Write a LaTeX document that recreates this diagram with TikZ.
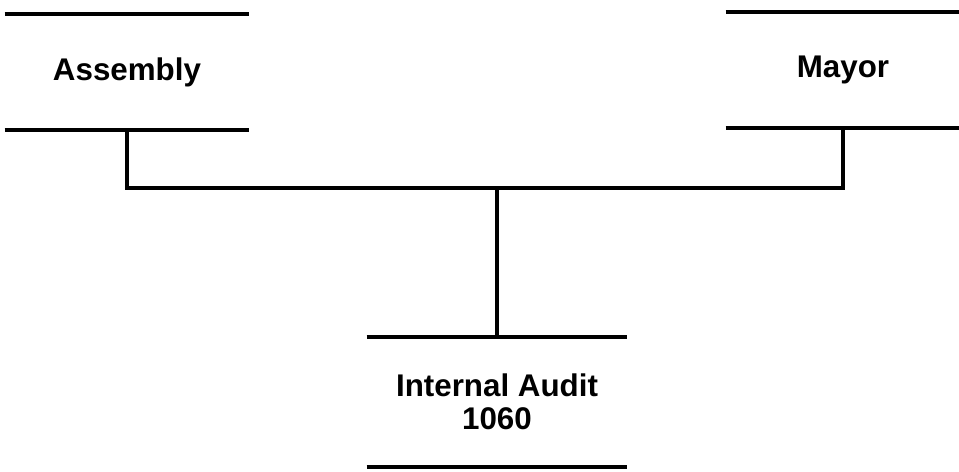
\documentclass[tikz,border=0pt]{standalone}
\usepackage{fontspec}
\setmainfont{Liberation Sans}
\usepackage{tikz}

\begin{document}
\begin{tikzpicture}
    [x=0.75pt,y=-0.75pt,
    unit/.style={minimum width=#1,inner sep=0pt,align=center,
        font=\fontsize{23.5}{24.5}\selectfont\bfseries},
    rule/.style={black,line width=2.8pt},
    link/.style={black,line width=2.4pt}]

\useasboundingbox (0,0) rectangle (959,471);

%units of the chart
\node[unit=183pt,minimum height=87pt] (assembly) at (127,72) {Assembly};
\node[unit=175.5pt,minimum height=87pt] (mayor) at (843,70) {Mayor};
\node[unit=195pt,minimum height=97.5pt] (audit) at (497,402) {Internal Audit\\1060};

%rules above and below each unit
\foreach \n in {assembly,mayor,audit}
    \draw[rule] (\n.north west) -- (\n.north east)
                (\n.south west) -- (\n.south east);

%connecting lines
\coordinate (bus) at (497,188);
\draw[link] (assembly.south) |- (bus) -| (mayor.south);
\draw[link] (bus) -- (audit.north);

\end{tikzpicture}
\end{document}
